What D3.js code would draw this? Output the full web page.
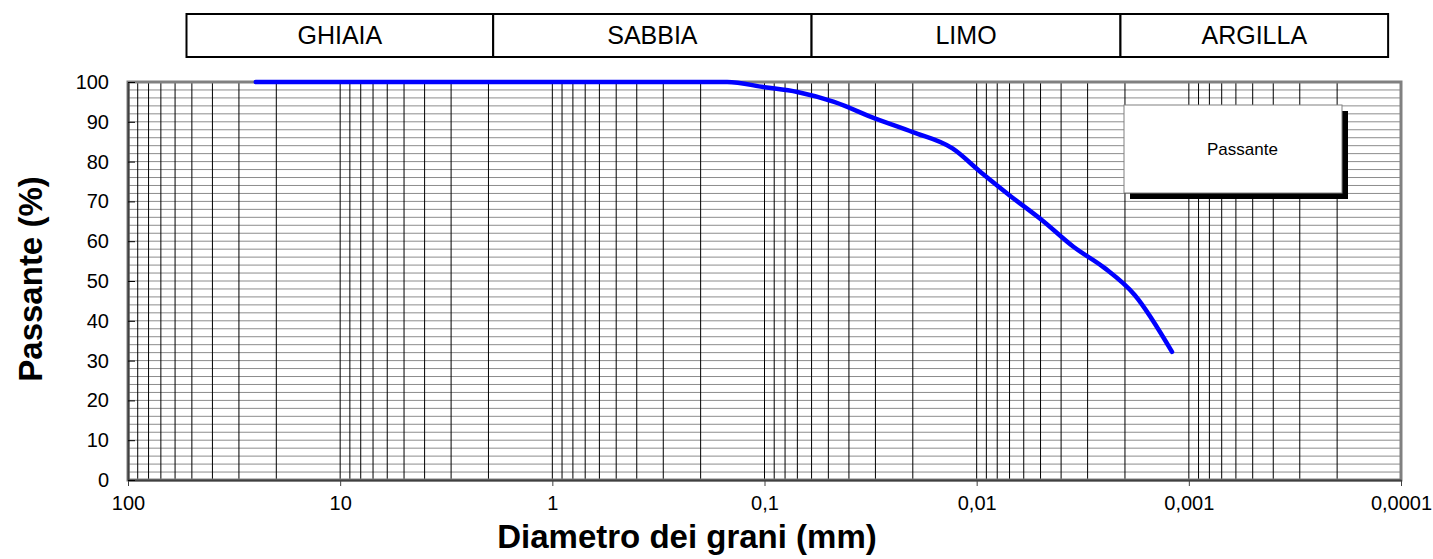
<!DOCTYPE html>
<html><head><meta charset="utf-8">
<script src="https://cdn.jsdelivr.net/npm/d3@7"></script>
<style>html,body{margin:0;padding:0;background:#fff;}svg{display:block;font-family:Arial,"Liberation Sans",sans-serif;}</style>
</head><body>
<svg id="c" width="1433" height="559"></svg>
<script>
// ---- data ----
const diameters = [25, 19, 9.5, 4.75, 2, 0.85, 0.425, 0.25, 0.15, 0.1, 0.07, 0.047, 0.03, 0.02, 0.013, 0.0095, 0.0068, 0.0049, 0.0035, 0.0025, 0.0018, 0.0012];
const passing   = [100, 100, 100, 100, 100, 100, 100, 100, 100, 98.7, 97.5, 95.0, 90.8, 87.4, 83.3, 77.2, 71.0, 65.2, 58.6, 53.3, 46.5, 32.2];
const xTickValues = [100, 10, 1, 0.1, 0.01, 0.001, 0.0001];
const xTickLabels = ["100", "10", "1", "0,1", "0,01", "0,001", "0,0001"];
const yTickValues = [0, 10, 20, 30, 40, 50, 60, 70, 80, 90, 100];
const classEdges = [53, 1.9, 0.06, 0.0021, 0.000115];
const classLabels = ["GHIAIA", "SABBIA", "LIMO", "ARGILLA"];
const seriesName = "Passante";

// ---- layout ----
const L = 128, R = 1401, T = 82, B = 480;
const svg = d3.select("#c");
const x = d3.scaleLog().domain([100, 0.0001]).range([L, R]);
const y = d3.scaleLinear().domain([0, 100]).range([B, T]);

// horizontal gridlines every 2%
const hVals = d3.range(2, 100, 2);
svg.append("g").selectAll("line").data(hVals).join("line")
  .attr("x1", L).attr("x2", R).attr("y1", d => y(d)).attr("y2", d => y(d))
  .attr("stroke", "#8c8c8c").attr("stroke-width", 1);

// vertical gridlines at k*10^n
const vVals = [];
for (let e = -4; e < 2; e++) for (let k = 1; k <= 9; k++) {
  const v = k * Math.pow(10, e);
  if (v < 100 && v > 0.0001) vVals.push(v);
}
svg.append("g").selectAll("line").data(vVals).join("line")
  .attr("x1", d => x(d)).attr("x2", d => x(d)).attr("y1", T).attr("y2", B)
  .attr("stroke", "#000").attr("stroke-width", 1);

// plot frame
svg.append("rect").attr("x", L).attr("y", T).attr("width", R - L).attr("height", B - T)
  .attr("fill", "none").attr("stroke", "#808080").attr("stroke-width", 3);

// axes
const xAxis = d3.axisBottom(x).tickValues(xTickValues)
  .tickFormat((d, i) => xTickLabels[i]).tickSize(6).tickSizeOuter(0);
const gx = svg.append("g").attr("transform", `translate(0,${B})`).call(xAxis);
gx.select(".domain").attr("stroke", "#404040").attr("stroke-width", 2);
gx.selectAll(".tick line").attr("stroke", "#404040");
gx.selectAll("text").attr("font-size", 20).attr("fill", "#000").attr("dy", "1.05em")
  .attr("font-family", "Arial, 'Liberation Sans', sans-serif");

const yAxis = d3.axisLeft(y).tickValues(yTickValues).tickSize(-7).tickSizeOuter(0).tickPadding(19);
const gy = svg.append("g").attr("transform", `translate(${L},0)`).call(yAxis);
gy.select(".domain").attr("stroke", "#404040").attr("stroke-width", 2);
gy.selectAll(".tick line").attr("stroke", "#000");
gy.selectAll("text").attr("font-size", 20).attr("fill", "#000")
  .attr("font-family", "Arial, 'Liberation Sans', sans-serif");

// series line
const pts = diameters.map((d, i) => [d, passing[i]]);
svg.append("path").datum(pts)
  .attr("d", d3.line().x(d => x(d[0])).y(d => y(d[1])).curve(d3.curveMonotoneX))
  .attr("fill", "none").attr("stroke", "#0000FF").attr("stroke-width", 4.5)
  .attr("stroke-linecap", "round").attr("stroke-linejoin", "round");

// classification header
const hdr = svg.append("g");
const boxTop = 14, boxBot = 57;
hdr.selectAll("rect").data(classLabels).join("rect")
  .attr("x", (d, i) => x(classEdges[i])).attr("y", boxTop)
  .attr("width", (d, i) => x(classEdges[i + 1]) - x(classEdges[i])).attr("height", boxBot - boxTop)
  .attr("fill", "#fff").attr("stroke", "#000").attr("stroke-width", 2);
hdr.selectAll("text").data(classLabels).join("text")
  .attr("x", (d, i) => (x(classEdges[i]) + x(classEdges[i + 1])) / 2).attr("y", 44)
  .attr("text-anchor", "middle").attr("font-size", 25).text(d => d);

// legend
const lg = svg.append("g");
lg.append("rect").attr("x", 1130).attr("y", 111).attr("width", 218).attr("height", 88).attr("fill", "#000");
lg.append("rect").attr("x", 1124).attr("y", 105).attr("width", 218).attr("height", 88)
  .attr("fill", "#fff").attr("stroke", "#808080").attr("stroke-width", 1);
lg.append("text").attr("x", 1207).attr("y", 155).attr("font-size", 17).text(seriesName);

// axis titles
svg.append("text").attr("x", 687).attr("y", 548).attr("text-anchor", "middle")
  .attr("font-size", 33).attr("font-weight", "bold").text("Diametro dei grani (mm)");
svg.append("text").attr("transform", "translate(42,279) rotate(-90)").attr("text-anchor", "middle")
  .attr("font-size", 33).attr("font-weight", "bold").text("Passante (%)");
</script>
</body></html>
